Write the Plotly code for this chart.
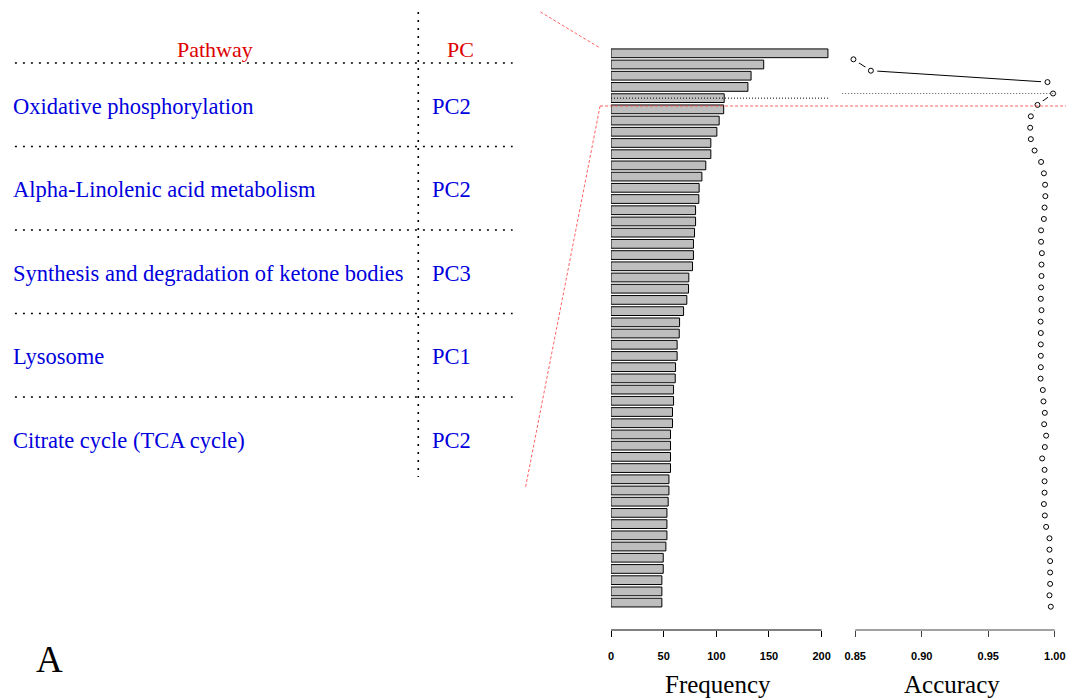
import plotly.graph_objects as go

W, H = 1073, 698

# ---------------- data ----------------
pathways = ["Oxidative phosphorylation", "Alpha-Linolenic acid metabolism",
            "Synthesis and degradation of ketone bodies", "Lysosome",
            "Citrate cycle (TCA cycle)"]
pcs = ["PC2", "PC2", "PC3", "PC1", "PC2"]
table_headers = ["Pathway", "PC"]

frequency = [206, 145, 133, 130, 107.5, 107, 102.7, 100.5, 94.8, 94.8, 90, 86.3, 83.7, 83.4,
             80.3, 80.3, 79.3, 78.3, 78.3, 77.4, 73.9, 73.6, 72, 68.9, 65.1, 64.8, 62.8,
             62.8, 61.3, 61, 59.4, 59.4, 58.4, 58.4, 56.5, 56.5, 56.5, 56.5,
             55, 55, 54.3, 53.1, 53.1, 53.1, 52.1, 49.6, 49.6, 48.3, 48.3, 48.3]

accuracy = [0.8487, 0.8618, 0.9945, 0.9987, 0.9870, 0.9820, 0.9815, 0.9820, 0.9848, 0.9897,
            0.9918, 0.9927, 0.9929, 0.9923, 0.9918, 0.9897, 0.9897, 0.9903, 0.9900, 0.9900,
            0.9897, 0.9895, 0.9900, 0.9893, 0.9895, 0.9895, 0.9895, 0.9895, 0.9893, 0.9910,
            0.9915, 0.9925, 0.9920, 0.9935, 0.9925, 0.9905, 0.9923, 0.9923, 0.9923, 0.9918,
            0.9925, 0.9935, 0.9960, 0.9960, 0.9965, 0.9965, 0.9965, 0.9960, 0.9970]

freq_ticks = [0, 50, 100, 150, 200]
acc_ticks = [0.85, 0.90, 0.95, 1.00]
acc_ticklabels = ["0.85", "0.90", "0.95", "1.00"]

# ---------------- helpers ----------------
def px(x):
    return x / W

def py(y):
    return 1 - y / H

bar_idx = list(range(1, len(frequency) + 1))
acc_idx = list(range(1, len(accuracy) + 1))
best_acc = accuracy.index(max(accuracy)) + 1      # index of best accuracy point
best_bar = best_acc + 1                            # corresponding number of features

# bars panel geometry (pixels)
bar_first_px, bar_step_px = 53.3, 11.21
panel_top, axis_px = 40, 630
bar_range = [1 + (axis_px - bar_first_px) / bar_step_px, 1 - (bar_first_px - panel_top) / bar_step_px]
f_left, f_right = 612, 840
f_ppu = (824 - 612) / 200.0

# accuracy panel
amin, amax = min(accuracy), max(accuracy)
aspan = amax - amin
acc_xrange = [amin - 0.04 * aspan, amax + 0.04 * aspan]
n = len(accuracy)
ext = 0.04 * (n - 1)
acc_yrange = [n + ext, 1 - ext]

fig = go.Figure()

fig.add_trace(go.Bar(
    x=frequency, y=bar_idx, orientation="h", width=0.78,
    marker=dict(color="#BEBEBE", line=dict(color="black", width=1)),
    xaxis="x", yaxis="y", showlegend=False, hoverinfo="skip"))

fig.add_trace(go.Scatter(
    x=accuracy, y=acc_idx, mode="lines", line=dict(color="black", width=1),
    xaxis="x2", yaxis="y2", showlegend=False, hoverinfo="skip"))
fig.add_trace(go.Scatter(
    x=accuracy, y=acc_idx, mode="markers",
    marker=dict(color="white", size=13, line=dict(width=0)),
    xaxis="x2", yaxis="y2", showlegend=False, hoverinfo="skip"))
fig.add_trace(go.Scatter(
    x=accuracy, y=acc_idx, mode="markers",
    marker=dict(symbol="circle-open", color="black", size=5, line=dict(width=1, color="black")),
    xaxis="x2", yaxis="y2", showlegend=False, hoverinfo="skip"))

tickfont = dict(family="Liberation Sans, Arial, sans-serif", size=11, color="black", weight="bold")

fig.update_layout(
    width=W, height=H, margin=dict(l=0, r=0, t=0, b=0),
    paper_bgcolor="white", plot_bgcolor="rgba(0,0,0,0)",
    xaxis=dict(domain=[px(f_left), px(f_right)], range=[0, (f_right - f_left) / f_ppu],
               anchor="free", position=py(axis_px), showgrid=False, zeroline=False,
               showline=False, tickvals=freq_ticks, ticks="outside", ticklen=6,
               tickcolor="black", tickwidth=1, tickfont=tickfont, ticklabelstandoff=10),
    yaxis=dict(domain=[py(axis_px), py(panel_top)], range=bar_range, visible=False),
    xaxis2=dict(domain=[px(848), px(1065)], range=acc_xrange,
                anchor="free", position=py(axis_px), showgrid=False, zeroline=False,
                showline=False, tickvals=acc_ticks, ticktext=acc_ticklabels,
                ticks="outside", ticklen=6, tickcolor="#444", tickwidth=1,
                tickfont=tickfont, ticklabelstandoff=10),
    yaxis2=dict(domain=[py(628.6), py(37.4)], range=acc_yrange, visible=False),
)

shapes = []
dot = dict(color="black", width=1.6, dash="2px,6px")
# table grid
shapes.append(dict(type="line", xref="paper", yref="paper", x0=px(418), x1=px(418),
                   y0=py(12), y1=py(477), line=dot))
row_h = 83.5
for i in range(len(pathways)):
    yl = 63 + row_h * i
    shapes.append(dict(type="line", xref="paper", yref="paper", x0=px(12), x1=px(513),
                       y0=py(yl), y1=py(yl), line=dot))
# red connectors
red = dict(color="rgba(255,60,60,0.8)", width=1, dash="3px,2px")
shapes.append(dict(type="line", xref="paper", yref="paper", x0=px(541), y0=py(12),
                   x1=px(601), y1=py(48), line=red))
shapes.append(dict(type="line", xref="paper", yref="paper", x0=px(601), y0=py(106),
                   x1=px(526), y1=py(487), line=red))
shapes.append(dict(type="line", xref="paper", yref="paper", x0=px(601), y0=py(106),
                   x1=px(1070), y1=py(106), line=red))
# cutoff dotted lines
shapes.append(dict(type="line", xref="x", yref="y", x0=0, x1=max(frequency),
                   y0=best_bar, y1=best_bar, line=dict(color="black", width=1, dash="1px,2px")))
shapes.append(dict(type="line", xref="x2 domain", yref="y2", x0=-0.015, x1=0.985,
                   y0=best_acc, y1=best_acc, line=dict(color="#555", width=1, dash="1px,2px")))
# axis lines spanning the tick range
shapes.append(dict(type="line", xref="x", yref="paper", x0=freq_ticks[0], x1=freq_ticks[-1],
                   y0=py(axis_px), y1=py(axis_px), line=dict(color="black", width=1)))
shapes.append(dict(type="line", xref="x2", yref="paper", x0=acc_ticks[0], x1=acc_ticks[-1],
                   y0=py(axis_px), y1=py(axis_px), line=dict(color="#444", width=1)))
fig.update_layout(shapes=shapes)

serif = "Liberation Serif, Times New Roman, serif"
ann = []
ann.append(dict(text=table_headers[0], x=px(213), y=py(50), xref="paper", yref="paper",
                xanchor="center", yanchor="middle", showarrow=False,
                font=dict(family=serif, size=22, color="#DD0000")))
ann.append(dict(text=table_headers[1], x=px(461), y=py(50), xref="paper", yref="paper",
                xanchor="center", yanchor="middle", showarrow=False,
                font=dict(family=serif, size=22, color="#DD0000")))
for i, (p, c) in enumerate(zip(pathways, pcs)):
    yc = 63 + row_h * i + 43
    ann.append(dict(text=p, x=px(8), y=py(yc), xref="paper", yref="paper",
                    xanchor="left", yanchor="middle", showarrow=False,
                    font=dict(family=serif, size=22.5, color="#0000DD")))
    ann.append(dict(text=c, x=px(430), y=py(yc), xref="paper", yref="paper",
                    xanchor="left", yanchor="middle", showarrow=False,
                    font=dict(family=serif, size=22.5, color="#0000DD")))
ann.append(dict(text="Frequency", x=px(720), y=py(684), xref="paper", yref="paper",
                xanchor="center", yanchor="middle", showarrow=False,
                font=dict(family=serif, size=25, color="black")))
ann.append(dict(text="Accuracy", x=px(955), y=py(684), xref="paper", yref="paper",
                xanchor="center", yanchor="middle", showarrow=False,
                font=dict(family=serif, size=25, color="black")))
ann.append(dict(text="A", x=px(47), y=py(659), xref="paper", yref="paper",
                xanchor="center", yanchor="middle", showarrow=False,
                font=dict(family=serif, size=37, color="black")))
fig.update_layout(annotations=ann)

fig.write_html("out.html")
